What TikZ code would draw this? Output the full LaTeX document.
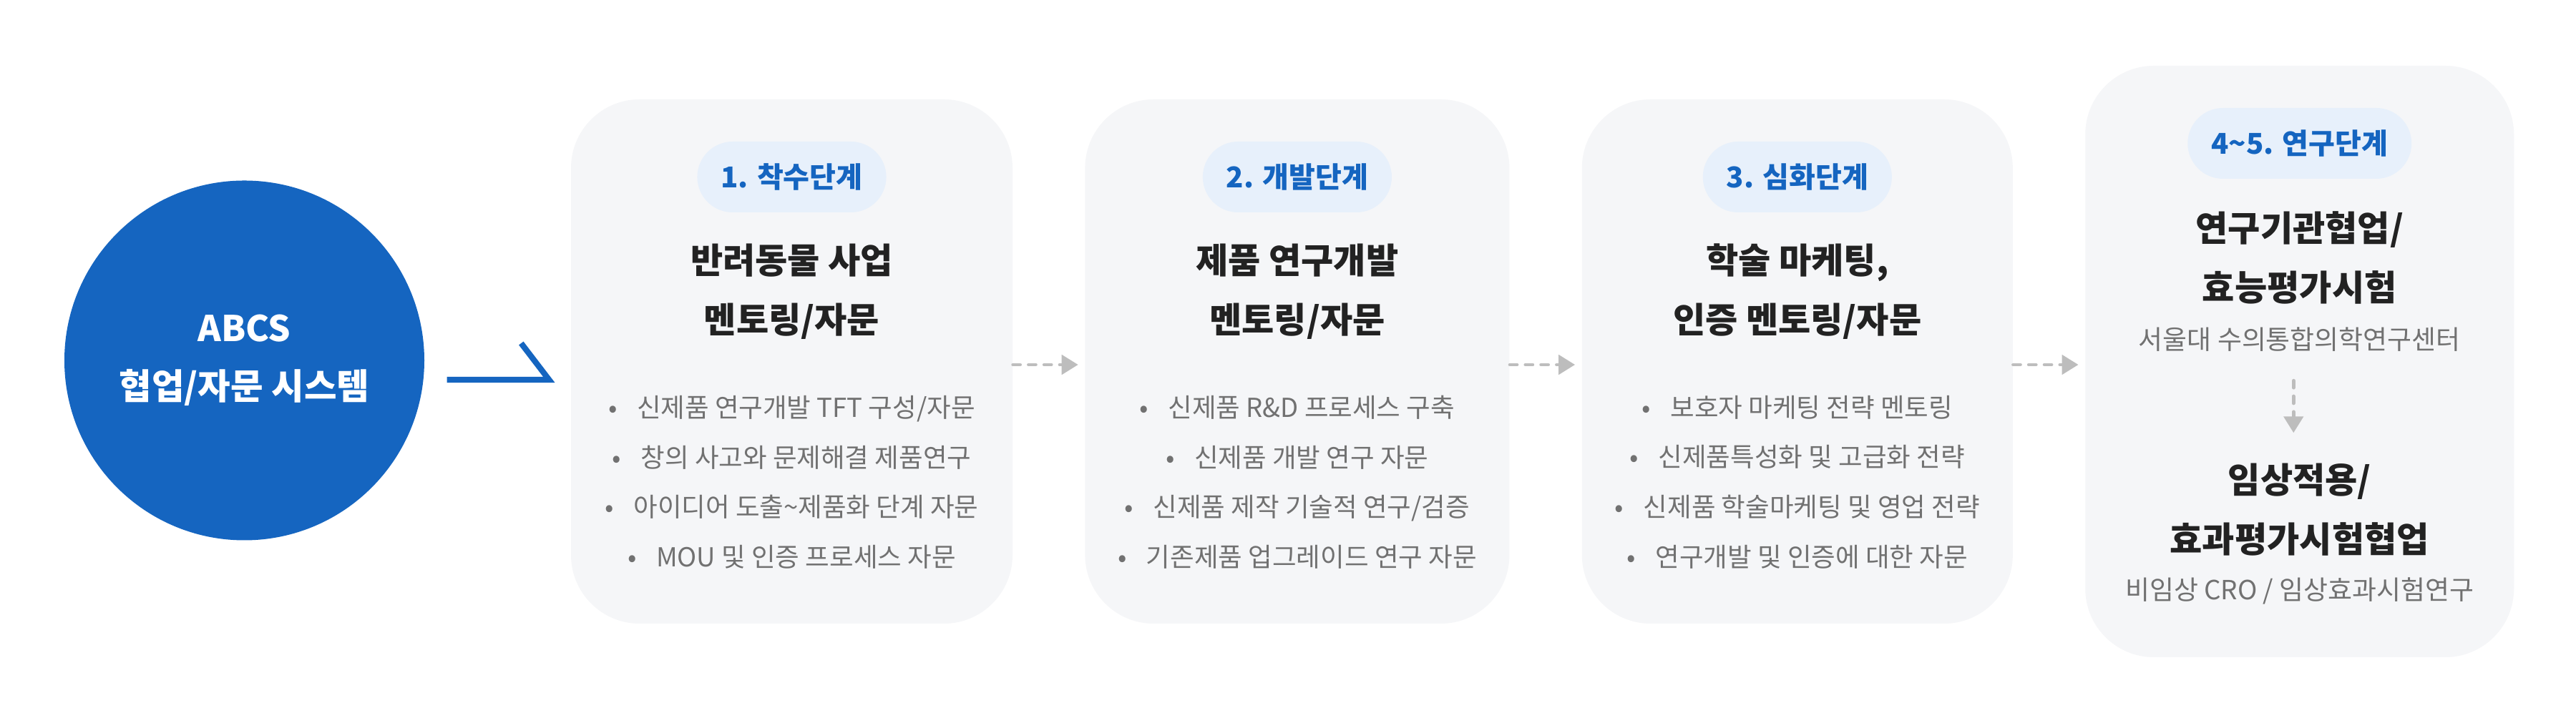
\documentclass[tikz,border=0pt]{standalone}
\usepackage{fontspec}
\setmainfont{Noto Sans CJK KR}
\usepackage{tikz}
\usetikzlibrary{arrows.meta,positioning,calc}
\usepackage{xcolor}
\definecolor{brand}{HTML}{1565C0}
\definecolor{pillbg}{HTML}{E7F0FB}
\definecolor{card}{HTML}{F5F6F8}
\definecolor{ink}{HTML}{222222}
\definecolor{muted}{HTML}{717171}
\definecolor{line}{HTML}{BDBDBD}
\newcommand{\itm}[1]{\textbullet\hspace{0.75em}#1}
\newcommand{\tld}{\char"7E\relax}
\tikzset{
  hub/.style={circle,fill=brand,minimum size=50.3mm,inner sep=0pt,text=white,align=center,font=\bfseries\fontsize{14.1}{23}\selectfont},
  cardbox/.style={rounded corners=9.6mm,fill=card,minimum height=73.3mm,inner sep=0pt},
  stage/.style={rounded corners=4.95mm,fill=pillbg,text=brand,minimum height=9.9mm,inner xsep=3.3mm,inner ysep=0pt,font=\bfseries\fontsize{11.4}{13}\selectfont},
  headline/.style={text=ink,align=center,inner sep=0pt,font=\bfseries\fontsize{14}{23.6}\selectfont},
  items/.style={text=muted,align=center,inner sep=0pt,font=\fontsize{10.4}{19.9}\selectfont},
  subline/.style={text=muted,inner sep=0pt,font=\fontsize{10.5}{12}\selectfont},
  link/.style={-{Triangle[length=2.3mm,width=2.7mm]},line width=1.4pt,draw=line,dash pattern=on 2.8pt off 3.4pt,line cap=round},
  pointer/.style={line width=2.3pt,draw=brand}
}
\begin{document}
\begin{tikzpicture}
\fill[white] (0,0) rectangle (36,10.11);
\useasboundingbox (0,0) rectangle (36,10.11);
\node[hub] (hub) at (3.415,5.07) {ABCS\\협업/자문 시스템};
\node[cardbox,minimum width=61.7mm] (b1) at (11.065,5.055) {};
\node[cardbox,minimum width=59.3mm,right=1cm of b1] (b2) {};
\node[cardbox,minimum width=60.2mm,right=1cm of b2] (b3) {};
\node[cardbox,minimum width=59.9mm,minimum height=82.7mm,right=1cm of b3] (b4) {};
\node[stage,below=5.9mm of b1.north] (s1) {1. 착수단계};
\node[stage,below=5.9mm of b2.north] (s2) {2. 개발단계};
\node[stage,below=5.9mm of b3.north] (s3) {3. 심화단계};
\node[stage,below=5.9mm of b4.north] (s4) {4\tld5. 연구단계};
\node[headline] (t1) at ($(b1.north)+(0,-2.695)$) {반려동물 사업\\멘토링/자문};
\node[headline] (t2) at ($(b2.north)+(0,-2.695)$) {제품 연구개발\\멘토링/자문};
\node[headline] (t3) at ($(b3.north)+(0,-2.695)$) {학술 마케팅,\\인증 멘토링/자문};
\node[headline] (t4) at ($(b4.north)+(0,-2.69)$) {연구기관협업/\\효능평가시험};
\node[subline] (u4) at ($(b4.north)+(0,-3.83)$) {서울대 수의통합의학연구센터};
\node[headline] (t5) at ($(b4.north)+(0,-6.21)$) {임상적용/\\효과평가시험협업};
\node[subline] (u5) at ($(b4.north)+(0,-7.35)$) {비임상 CRO / 임상효과시험연구};
\node[items] (l1) at ($(b1.north)+(0,-5.36)$) {\itm{신제품 연구개발 TFT 구성/자문}\\\itm{창의 사고와 문제해결 제품연구}\\\itm{아이디어 도출\tld 제품화 단계 자문}\\\itm{MOU 및 인증 프로세스 자문}};
\node[items] (l2) at ($(b2.north)+(0,-5.36)$) {\itm{신제품 R\&D 프로세스 구축}\\\itm{신제품 개발 연구 자문}\\\itm{신제품 제작 기술적 연구/검증}\\\itm{기존제품 업그레이드 연구 자문}};
\node[items] (l3) at ($(b3.north)+(0,-5.36)$) {\itm{보호자 마케팅 전략 멘토링}\\\itm{신제품특성화 및 고급화 전략}\\\itm{신제품 학술마케팅 및 영업 전략}\\\itm{연구개발 및 인증에 대한 자문}};
\coordinate (p0) at ($(hub.east)+(0.31,-0.27)$);
\coordinate (p1) at ($(b1.west)+(-0.30,-0.255)$);
\draw[pointer] (p0) -- (p1) -- ++(-0.39,0.51);
\draw[link] ($(b1.east)+(0,-0.045)$) -- ($(b2.west)+(-0.09,-0.045)$);
\draw[link] ($(b2.east)+(0,-0.045)$) -- ($(b3.west)+(-0.09,-0.045)$);
\draw[link] ($(b3.east)+(0,-0.045)$) -- ($(b4.west)+(-0.09,-0.045)$);
\draw[link] ($(u4.center)+(-0.085,-0.58)$) -- ($(t5.center)+(-0.085,1.07)$);
\end{tikzpicture}
\end{document}
